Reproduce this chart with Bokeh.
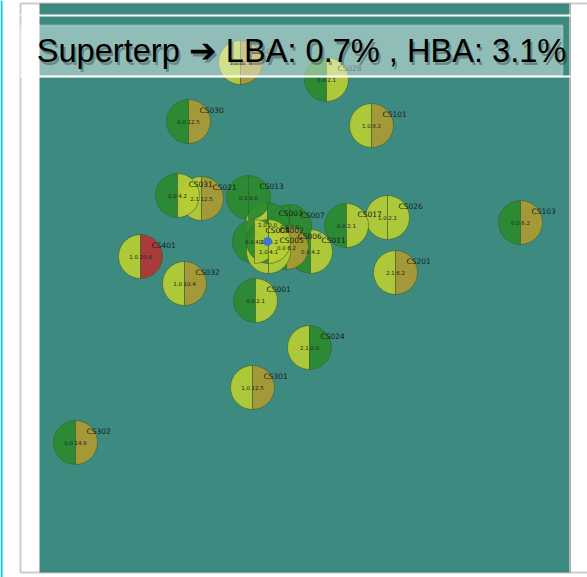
import numpy as np
from bokeh.plotting import figure
from bokeh.models import Range1d, BoxAnnotation, Label, ColumnDataSource
from bokeh.embed import file_html
from bokeh.resources import INLINE
from bokeh.core.properties import value

# ---- data (positions in image units) ----
stations = ["CS501", "CS028", "CS030", "CS101", "CS031", "CS021", "CS013",
            "CS017", "CS026", "CS103", "CS401", "CS032", "CS201", "CS001",
            "CS024", "CS301", "CS302", "CS011", "CS007", "CS006", "CS003",
            "CS004", "CS005", "CS002"]
east = [240, 326, 188, 371, 177, 201, 248,
        346, 387, 520, 140, 184, 395, 255,
        309, 252, 75, 310, 289, 286, 267,
        254, 268, 268]
north = [62, 79, 121, 125, 195, 198, 197,
         225, 217, 222, 256, 283, 272, 300,
         347, 387, 442, 251, 226, 247, 224,
         241, 251, 241]
lba_loss = [1.1, 0.0, 0.0, 1.0, 0.0, 2.1, 0.0,
            0.0, 1.0, 0.0, 1.0, 1.0, 2.1, 0.0,
            2.1, 1.0, 0.0, 0.0, 0.0, 0.0, 1.0,
            0.0, 1.0, 0.0]
hba_loss = [12.9, 2.1, 12.5, 8.2, 4.2, 12.5, 0.0,
            2.1, 2.1, 6.2, 20.8, 10.4, 6.2, 2.1,
            0.0, 12.5, 14.6, 4.2, 0.0, 6.2, 0.0,
            4.2, 4.1, 4.2]
superterp_center = [267, 241]
title_text = "Superterp \u2794 LBA: 0.7% , HBA: 3.1%"

GREEN = "#2a8a2e"
YG = "#b6ce34"
GOLD = "#ad9a32"
RED = "#b03535"
TEAL = "#3d8b80"


def loss_color(v):
    if v == 0:
        return GREEN
    if v < 5:
        return YG
    if v < 16:
        return GOLD
    return RED


src = ColumnDataSource(dict(
    x=east, y=north, name=stations,
    lcol=[loss_color(v) for v in lba_loss],
    rcol=[loss_color(v) for v in hba_loss],
    vals=["%.1f %.1f" % (a, b) for a, b in zip(lba_loss, hba_loss)],
    lx=list(np.array(east) + 11), ly=list(np.array(north) - 11),
))

p = figure(width=587, height=577, output_backend="svg", toolbar_location=None,
           x_range=Range1d(0, 587), y_range=Range1d(577, 0),
           x_axis_location=None, y_axis_location=None,
           min_border_left=0, min_border_right=0, min_border_top=0,
           min_border_bottom=0)
p.grid.visible = False
p.background_fill_color = "white"
p.border_fill_color = "white"
p.outline_line_color = None

# teal map area and frame
p.add_layout(BoxAnnotation(left=39, right=569, top=3, bottom=572,
                           level="underlay", fill_color=TEAL, fill_alpha=1.0,
                           line_alpha=0))
p.add_layout(BoxAnnotation(left=569, right=570.5, top=3, bottom=572,
                           level="underlay", fill_color="#b0b0b0",
                           fill_alpha=1.0, line_alpha=0))
p.add_layout(BoxAnnotation(left=20, right=900, top=3, bottom=572,
                           level="underlay", fill_alpha=0,
                           line_color="#5a5a5a", line_width=2))
p.add_layout(BoxAnnotation(left=0, right=2, top=0, bottom=577,
                           level="underlay", fill_color="#00c8f0",
                           fill_alpha=1.0, line_alpha=0))

# pies
p.wedge("x", "y", radius=22, start_angle=np.pi / 2, end_angle=3 * np.pi / 2,
        direction="anticlock", fill_color="lcol", fill_alpha=0.92,
        line_color="#3a5a28", line_alpha=0.55, line_width=1, source=src)
p.wedge("x", "y", radius=22, start_angle=-np.pi / 2, end_angle=np.pi / 2,
        direction="anticlock", fill_color="rcol", fill_alpha=0.92,
        line_color="#3a5a28", line_alpha=0.55, line_width=1, source=src)
p.text("x", "y", text="vals", source=src, text_font=value("DejaVu Sans"),
       text_font_size="5.5px", text_color="#222222", text_align="center",
       text_baseline="middle")
p.text("lx", "ly", text="name", source=src, text_font=value("DejaVu Sans"),
       text_font_size="7.5px", text_color="#1a1a1a", text_align="left",
       text_baseline="middle")
p.scatter([superterp_center[0]], [superterp_center[1]], size=8,
          color="#3a78d8")

# title band
p.add_layout(BoxAnnotation(left=20, right=570, top=14, bottom=16,
                           fill_color="white", fill_alpha=1.0, line_alpha=0))
p.add_layout(BoxAnnotation(left=20, right=562, top=25, bottom=76,
                           fill_color="white", fill_alpha=0.43,
                           line_color="white", line_width=2))
p.add_layout(BoxAnnotation(left=20, right=570, top=75, bottom=77,
                           fill_color="white", fill_alpha=1.0, line_alpha=0))
p.add_layout(Label(x=301, y=50, text=title_text, x_offset=2, y_offset=-3,
                   text_font="Liberation Sans", text_font_size="32.6px",
                   text_color="black", text_alpha=0.3, text_align="center",
                   text_baseline="middle"))
p.add_layout(Label(x=301, y=50, text=title_text,
                   text_font="Liberation Sans", text_font_size="32.6px",
                   text_color="black", text_align="center",
                   text_baseline="middle"))

open("out.html", "w").write(file_html(p, INLINE))
